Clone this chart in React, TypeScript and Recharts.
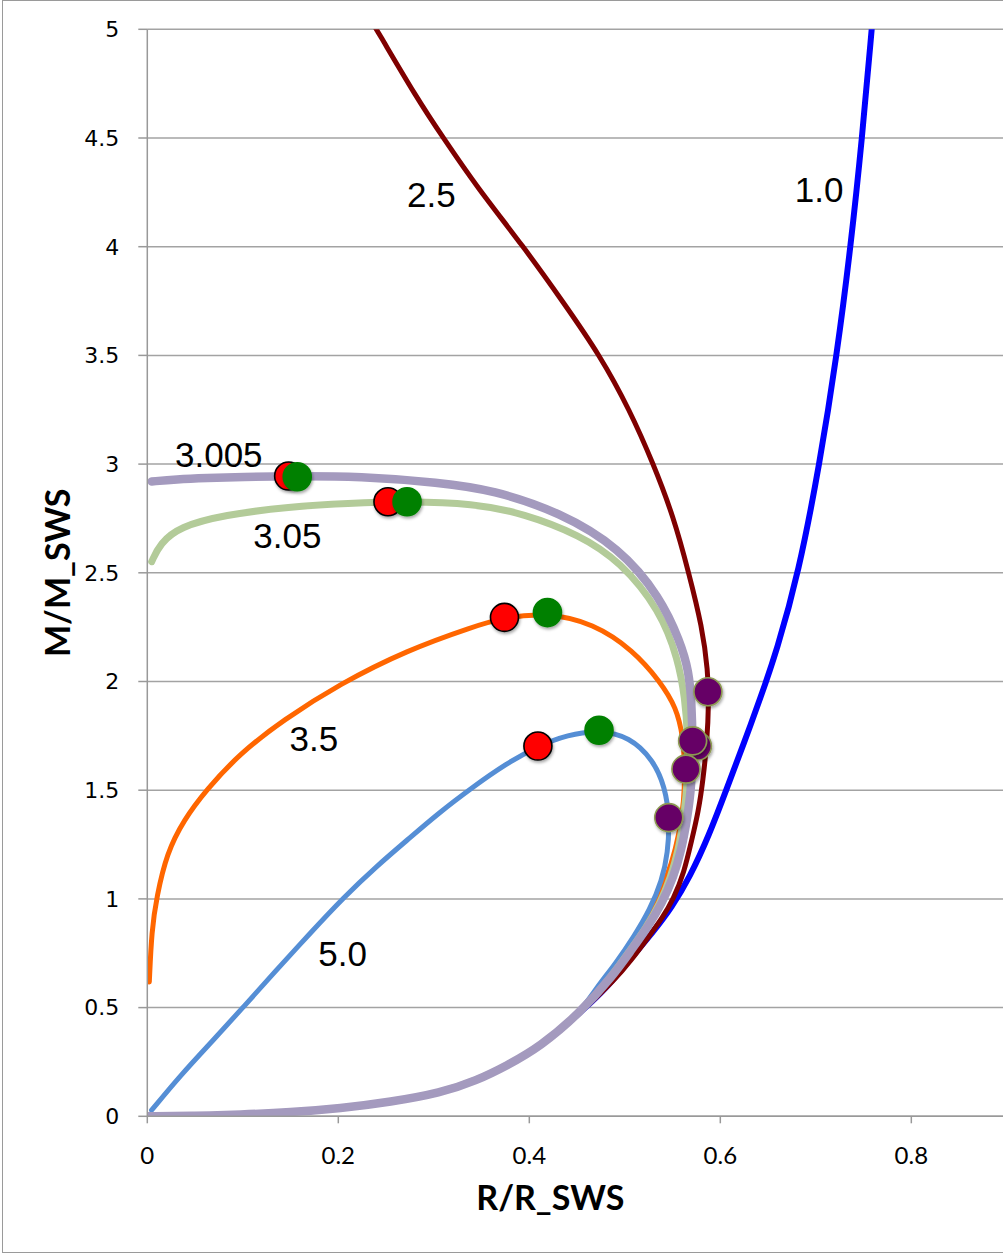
import React from "react";
import {
  ComposedChart,
  Line,
  Scatter,
  XAxis,
  YAxis,
  CartesianGrid,
} from "recharts";

// Mass-radius curves as [R/R_SWS, M/M_SWS]
// low-density branch shared by every curve, from the origin upward
const lowBranch: [number, number][] = [
  [0, 0], [0.05, 0.002], [0.097, 0.008], [0.15, 0.018], [0.202, 0.036],
  [0.255, 0.066], [0.307, 0.107], [0.345, 0.165], [0.376, 0.232],
  [0.411, 0.319], [0.453, 0.475],
];

const upper10: [number, number][] = [
  [0.476, 0.57], [0.492, 0.649], [0.506, 0.725], [0.53, 0.85], [0.549, 0.96],
  [0.568, 1.1], [0.588, 1.29], [0.607, 1.51], [0.625, 1.72], [0.642, 1.924],
  [0.659, 2.14], [0.682, 2.5], [0.704, 3.0], [0.722, 3.5], [0.7365, 4.0],
  [0.7485, 4.5], [0.7585, 5.0], [0.7605, 5.1],
];

const upper25: [number, number][] = [
  [0.49, 0.63], [0.507, 0.72], [0.524, 0.82], [0.539, 0.91], [0.551, 1.0],
  [0.562, 1.12], [0.57, 1.27], [0.577, 1.4], [0.582, 1.55], [0.586, 1.72],
  [0.588, 1.9], [0.587, 2.05], [0.581, 2.25], [0.567, 2.5], [0.551, 2.758],
  [0.53, 3.0], [0.505, 3.25], [0.474, 3.5], [0.436, 3.742], [0.394, 4.0],
  [0.345, 4.275], [0.31, 4.5], [0.282, 4.685], [0.24, 5.0], [0.226, 5.1],
];

const upper3005: [number, number][] = [
  [0.488, 0.649], [0.506, 0.76], [0.524, 0.87], [0.539, 0.98], [0.551, 1.1],
  [0.559, 1.22], [0.565, 1.36], [0.57, 1.515], [0.571, 1.722], [0.57, 1.9],
  [0.567, 2.05], [0.558, 2.184], [0.537, 2.389], [0.495, 2.614],
  [0.432, 2.779], [0.362, 2.881], [0.306, 2.915], [0.223, 2.944],
  [0.148, 2.945], [0.1, 2.941], [0.062, 2.936], [0.03, 2.93], [0.0046, 2.92],
];

const upper305: [number, number][] = [
  [0.487, 0.649], [0.504, 0.755], [0.522, 0.865], [0.537, 0.98], [0.548, 1.1],
  [0.556, 1.22], [0.562, 1.38], [0.566, 1.55], [0.566, 1.75], [0.563, 1.922],
  [0.556, 2.1], [0.537, 2.328], [0.495, 2.553], [0.453, 2.674], [0.394, 2.773],
  [0.341, 2.82], [0.272, 2.828], [0.21, 2.82], [0.149, 2.804], [0.08, 2.766],
  [0.034, 2.712], [0.0133, 2.635], [0.0046, 2.551],
];

const upper35: [number, number][] = [
  [0.487, 0.649], [0.504, 0.765], [0.522, 0.9], [0.538, 1.04], [0.549, 1.16],
  [0.557, 1.3], [0.562, 1.45], [0.563, 1.597], [0.561, 1.746], [0.554, 1.88],
  [0.537, 2.0], [0.509, 2.143], [0.467, 2.268], [0.419, 2.316], [0.374, 2.295],
  [0.341, 2.252], [0.272, 2.144], [0.202, 1.99], [0.142, 1.822],
  [0.097, 1.669], [0.062, 1.503], [0.038, 1.362], [0.0203, 1.209],
  [0.0098, 1.009], [0.0046, 0.856], [0.0021, 0.618],
];

const upper50: [number, number][] = [
  [0.47, 0.59], [0.49, 0.7], [0.51, 0.83], [0.526, 0.948], [0.539, 1.086],
  [0.545, 1.21], [0.547, 1.37], [0.542, 1.515], [0.53, 1.638], [0.505, 1.746],
  [0.473, 1.776], [0.44, 1.755], [0.409, 1.703], [0.375, 1.62], [0.341, 1.515],
  [0.305, 1.395], [0.272, 1.27], [0.24, 1.15], [0.206, 1.009], [0.17, 0.84],
  [0.132, 0.657], [0.1007, 0.503], [0.069, 0.35], [0.035, 0.19],
  [0.0045, 0.028],
];

// marked points
const redDots: [number, number][] = [
  [0.148, 2.945], [0.252, 2.827], [0.374, 2.295], [0.409, 1.703],
];
const greenDots: [number, number][] = [
  [0.157, 2.942], [0.272, 2.827], [0.419, 2.317], [0.473, 1.776],
];
const purpleDots: [number, number][] = [
  [0.576, 1.703], [0.587, 1.953], [0.571, 1.727], [0.564, 1.597], [0.546, 1.374],
];

// curve names, anchored at the left end of their baseline
const curveLabels = [
  { label: "2.5", x: 0.272, y: 4.183 },
  { label: "1.0", x: 0.678, y: 4.206 },
  { label: "3.005", x: 0.029, y: 2.988 },
  { label: "3.05", x: 0.111, y: 2.615 },
  { label: "3.5", x: 0.149, y: 1.681 },
  { label: "5.0", x: 0.179, y: 0.692 },
];

const xTicks = [0, 0.2, 0.4, 0.6, 0.8];
const yTicks = [0, 0.5, 1, 1.5, 2, 2.5, 3, 3.5, 4, 4.5, 5];

const X_MAX = 0.896;

const pts = (arr: [number, number][]) => arr.map(([x, y]) => ({ x, y }));
// curves that start at their left end and come back down the shared branch
const fromLeft = (upper: [number, number][]) =>
  pts([...upper].reverse().concat([...lowBranch].reverse()));
const fromOrigin = (upper: [number, number][]) => pts(lowBranch.concat(upper));

const dotShape = (fill: string, stroke: string) => (props: any) => {
  const { cx, cy } = props;
  if (cx == null || cy == null) return <g />;
  return (
    <circle
      cx={cx}
      cy={cy}
      r={14}
      fill={fill}
      stroke={stroke}
      strokeWidth={1.6}
      filter="url(#dotShadow)"
    />
  );
};

const labelShape = (props: any) => {
  const { cx, cy } = props;
  const text = props.payload?.label ?? props.label;
  return (
    <text
      x={cx}
      y={cy}
      fontFamily="'Liberation Sans', Arial, sans-serif"
      fontSize={35}
      fill="#000"
    >
      {text}
    </text>
  );
};

const gray = "#a3a3a3";

export default function App() {
  const lines = [
    { data: fromOrigin(upper10), color: "#0000ff", width: 6 },
    { data: fromOrigin(upper25), color: "#7f0000", width: 5 },
    { data: fromLeft(upper35), color: "#ff6600", width: 5 },
    { data: fromLeft(upper50), color: "#558ed5", width: 5 },
    { data: fromLeft(upper305), color: "#b3cb99", width: 7 },
    { data: fromLeft(upper3005), color: "#a49abe", width: 8.5 },
  ];

  return (
    <div
      style={{
        position: "absolute",
        left: 0,
        top: 0,
        width: 1003,
        height: 1253,
        overflow: "hidden",
        background: "#fff",
      }}
    >
      <svg width={0} height={0} style={{ position: "absolute" }}>
        <defs>
          <filter id="dotShadow" x="-50%" y="-50%" width="200%" height="200%">
            <feDropShadow dx="1" dy="2" stdDeviation="1.5" floodColor="#000" floodOpacity="0.35" />
          </filter>
        </defs>
      </svg>
      {/* frame of the picture */}
      <div
        style={{
          position: "absolute",
          left: 2,
          top: 0,
          width: 1030,
          height: 1253,
          border: "1.5px solid #9a9a9a",
          boxSizing: "border-box",
        }}
      />
      <div style={{ position: "absolute", left: 0, top: 0 }}>
        <ComposedChart
          width={1003}
          height={1253}
          margin={{ top: 29.3, right: 0, bottom: 0, left: 0 }}
        >
          <CartesianGrid vertical={false} stroke={gray} strokeWidth={1.5} />
          <XAxis
            type="number"
            dataKey="x"
            domain={[0, X_MAX]}
            ticks={xTicks}
            allowDataOverflow
            height={136.7}
            tickSize={7}
            tickMargin={24}
            stroke="#999"
            strokeWidth={1.5}
            tickFormatter={(v) => String(v)}
            tick={{ fill: "#000", fontSize: 24, fontFamily: "Lato, 'Open Sans', sans-serif" }}
            label={{
              content: (p: any) => {
                const vb = p.viewBox || { x: 147.3, y: 1116, width: 855.7 };
                return (
                  <text
                    x={vb.x + 403}
                    y={vb.y + 94}
                    textAnchor="middle"
                    fontFamily="Lato, 'Open Sans', sans-serif"
                    fontWeight="bold"
                    fontSize={34}
                    fill="#000"
                  >
                    R/R_SWS
                  </text>
                );
              },
            }}
          />
          <YAxis
            type="number"
            dataKey="y"
            domain={[0, 5]}
            ticks={yTicks}
            allowDataOverflow
            width={147.3}
            tickSize={9}
            tickMargin={19}
            stroke="#999"
            strokeWidth={1.5}
            tickFormatter={(v) => String(v)}
            tick={{ fill: "#000", fontSize: 22, fontFamily: "'DejaVu Sans', sans-serif" }}
            label={{
              content: (p: any) => {
                const vb = p.viewBox || { x: 0, y: 29.3, height: 1086.7 };
                const cx = vb.x + 70;
                const cy = vb.y + vb.height / 2;
                return (
                  <text
                    x={cx}
                    y={cy}
                    textAnchor="middle"
                    transform={`rotate(-90, ${cx}, ${cy})`}
                    fontFamily="Lato, 'Open Sans', sans-serif"
                    fontWeight="bold"
                    fontSize={34}
                    fill="#000"
                  >
                    M/M_SWS
                  </text>
                );
              },
            }}
          />
          {lines.map((l, i) => (
            <Line
              key={i}
              data={l.data}
              dataKey="y"
              type="basis"
              stroke={l.color}
              strokeWidth={l.width}
              strokeLinecap="round"
              strokeLinejoin="round"
              dot={false}
              activeDot={false}
              isAnimationActive={false}
            />
          ))}
          <Scatter data={pts(redDots)} dataKey="y" shape={dotShape("#ff0000", "#000")} isAnimationActive={false} />
          <Scatter data={pts(greenDots)} dataKey="y" shape={dotShape("#008000", "#008000")} isAnimationActive={false} />
          <Scatter data={pts(purpleDots)} dataKey="y" shape={dotShape("#660066", "#8d9a52")} isAnimationActive={false} />
          <Scatter data={curveLabels} dataKey="y" shape={labelShape} isAnimationActive={false} />
        </ComposedChart>
      </div>
    </div>
  );
}
